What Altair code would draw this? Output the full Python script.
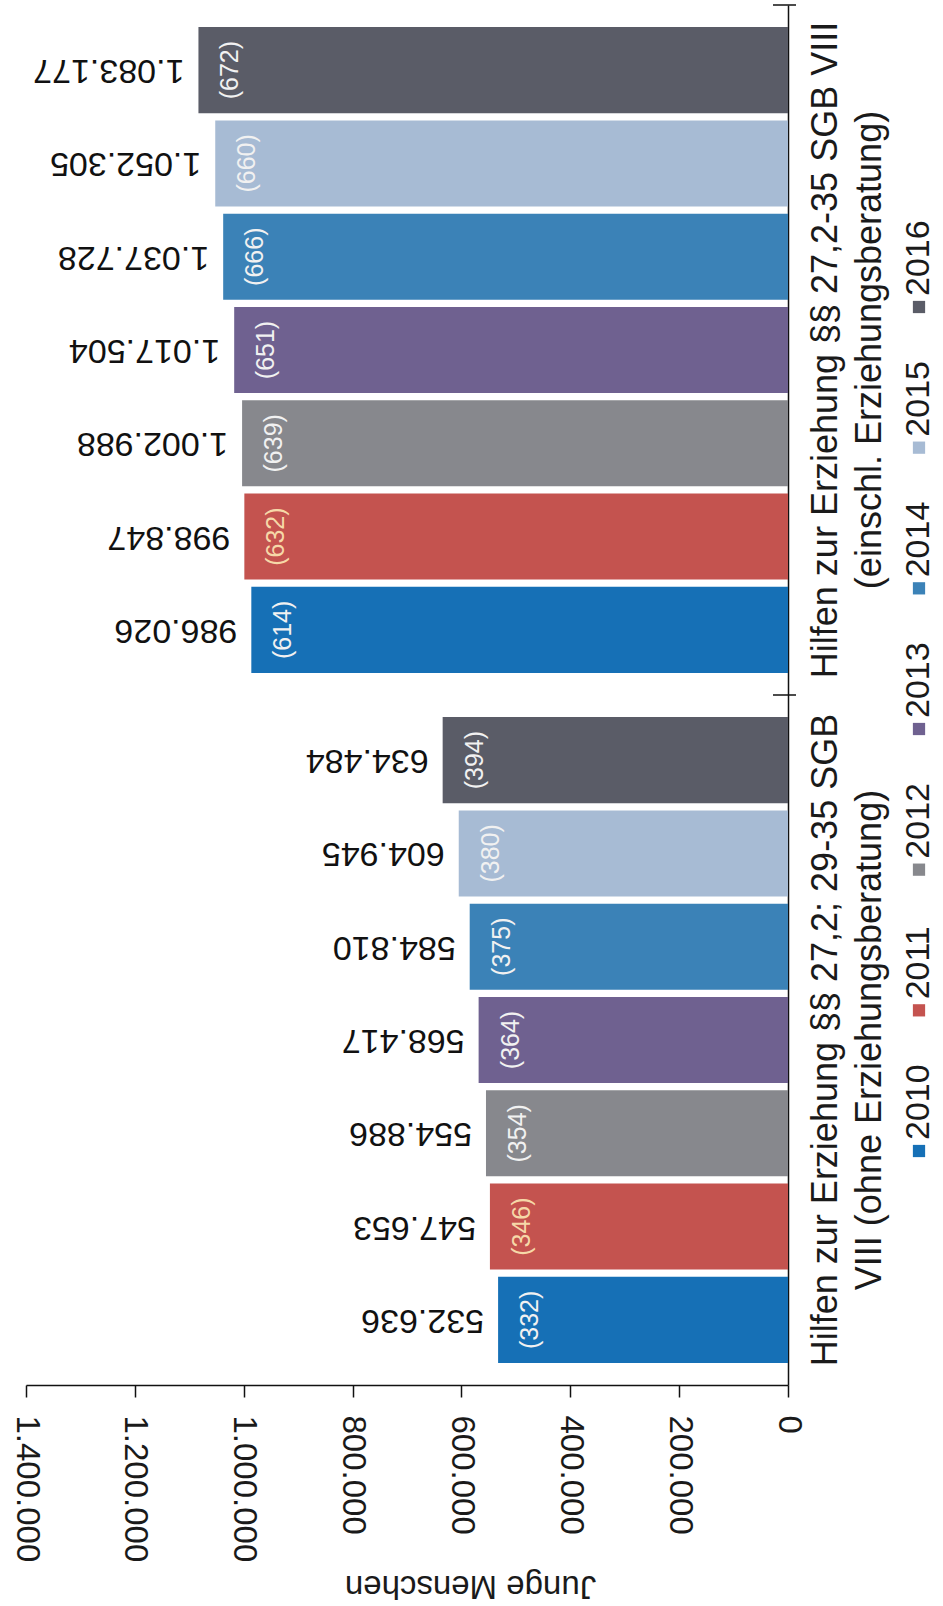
import altair as alt
import pandas as pd

# Jahre und Farben der Balken
jahre = ["2010", "2011", "2012", "2013", "2014", "2015", "2016"]
farben = ["#1670b6", "#c4534f", "#87888d", "#6f6190", "#3b82b7", "#a7bbd4", "#5a5c67"]

# Kategorien (Zeilenumbruch mit "|")
gruppen = [
    "Hilfen zur Erziehung §§ 27,2-35 SGB VIII|(einschl. Erziehungsberatung)",
    "Hilfen zur Erziehung §§ 27,2; 29-35 SGB|VIII (ohne Erziehungsberatung)",
]

# Junge Menschen je Jahr und Anzahl (in Klammern)
mit_beratung = [986026, 998847, 1002988, 1017504, 1037728, 1052305, 1083177]
mit_beratung_n = [614, 632, 639, 651, 666, 660, 672]
ohne_beratung = [532636, 547653, 554886, 568417, 584810, 604945, 634484]
ohne_beratung_n = [332, 346, 354, 364, 375, 380, 394]

achsen_werte = [0, 200000, 400000, 600000, 800000, 1000000, 1200000, 1400000]

rows = []
for g, werte, anz in [(gruppen[0], mit_beratung, mit_beratung_n),
                      (gruppen[1], ohne_beratung, ohne_beratung_n)]:
    for j, w, n in zip(jahre, werte, anz):
        rows.append({"gruppe": g, "jahr": j, "wert": w, "anzahl": f"({n})"})
df = pd.DataFrame(rows)
legende_df = pd.DataFrame({"jahr": jahre})
trenner_df = pd.DataFrame({"gruppe": gruppen})

FONT = "Liberation Sans"
W, H = 762, 1380
jahre_ab = list(reversed(jahre))

x_enc = alt.X(
    "wert:Q",
    scale=alt.Scale(domain=[0, 1400000], reverse=True, nice=False),
    axis=alt.Axis(
        values=achsen_werte,
        labelExpr="replace(replace(format(datum.value, ','), ',', '.'), ',', '.')",
        labelAngle=90, labelAlign="left", labelBaseline="middle",
        labelFontSize=33, labelFont=FONT, labelColor="#1a1a1a", labelPadding=18,
        tickSize=12, tickColor="#111", tickWidth=1.5,
        domainColor="#111", domainWidth=1.5, grid=False,
        title="Junge Menschen", titleAngle=180, titleFontSize=33, titleFont=FONT,
        titleFontWeight="normal", titleColor="#1a1a1a",
        titleAlign="center", titleBaseline="middle", titleX=444, titleY=200,
    ),
)

y_enc = alt.Y(
    "gruppe:N", sort=gruppen,
    scale=alt.Scale(paddingInner=0, paddingOuter=0),
    axis=alt.Axis(
        orient="right", labelAngle=270, labelAlign="center", labelBaseline="top",
        labelExpr="split(datum.value, '|')",
        labelFontSize=36, labelFont=FONT, labelColor="#1a1a1a",
        labelLineHeight=44, labelPadding=20, labelLimit=2000, labelOverlap=False,
        ticks=False, domainColor="#111", domainWidth=1.5, title=None,
    ),
)
yoff_enc = alt.YOffset(
    "jahr:N", sort=jahre_ab,
    scale=alt.Scale(paddingInner=0.078, paddingOuter=0.237),
)
farbe = alt.Color("jahr:N", scale=alt.Scale(domain=jahre, range=farben), legend=None)

basis = alt.Chart(df)

balken = basis.mark_bar().encode(x=x_enc, y=y_enc, yOffset=yoff_enc, color=farbe)

werte_text = basis.transform_calculate(
    txt="replace(replace(format(datum.wert, ','), ',', '.'), ',', '.')"
).mark_text(
    angle=180, align="left", baseline="middle", dx=14,
    fontSize=34, font=FONT, color="#111111",
).encode(x="wert:Q", y=alt.Y("gruppe:N", sort=gruppen), yOffset=yoff_enc, text="txt:N")

anzahl_text = basis.mark_text(
    angle=270, align="center", baseline="middle", dy=32, fontSize=25, font=FONT,
).encode(
    x="wert:Q", y=alt.Y("gruppe:N", sort=gruppen), yOffset=yoff_enc, text="anzahl:N",
    color=alt.condition(alt.datum.jahr == "2011", alt.value("#f6d8a8"), alt.value("#f1f1f1")),
)

trenner = alt.Chart(trenner_df).mark_rule(color="#111", strokeWidth=1.5).encode(
    y=alt.Y("gruppe:N", sort=gruppen, bandPosition=0),
    x=alt.value(W - 15), x2=alt.value(W + 8),
)

# Legende: Punktskala über den mittleren Bereich der Höhe
leg_y = alt.Y(
    "jahr:N", sort=jahre_ab,
    scale=alt.Scale(type="point", padding=0, range=[302, 1146]),
    axis=None,
)
leg_punkte = alt.Chart(legende_df).mark_square(size=150, opacity=1).encode(
    x=alt.value(W + 131), y=leg_y, color=farbe,
)
leg_text = alt.Chart(legende_df).mark_text(
    angle=270, align="left", baseline="middle", dx=11,
    fontSize=34, font=FONT, color="#1a1a1a",
).encode(x=alt.value(W + 131), y=leg_y, text="jahr:N")

haupt = alt.layer(balken, werte_text, anzahl_text, trenner)
legende = alt.layer(leg_punkte, leg_text)

chart = alt.layer(haupt, legende).resolve_scale(y="independent").properties(
    width=W, height=H,
    autosize=alt.AutoSizeParams(type="none"),
    padding={"left": 26, "top": 5, "right": 943 - 26 - W, "bottom": 1606 - 5 - H},
    background="white",
).configure_view(stroke=None)

chart.save("out.html", embed_options={"renderer": "svg", "actions": False})
